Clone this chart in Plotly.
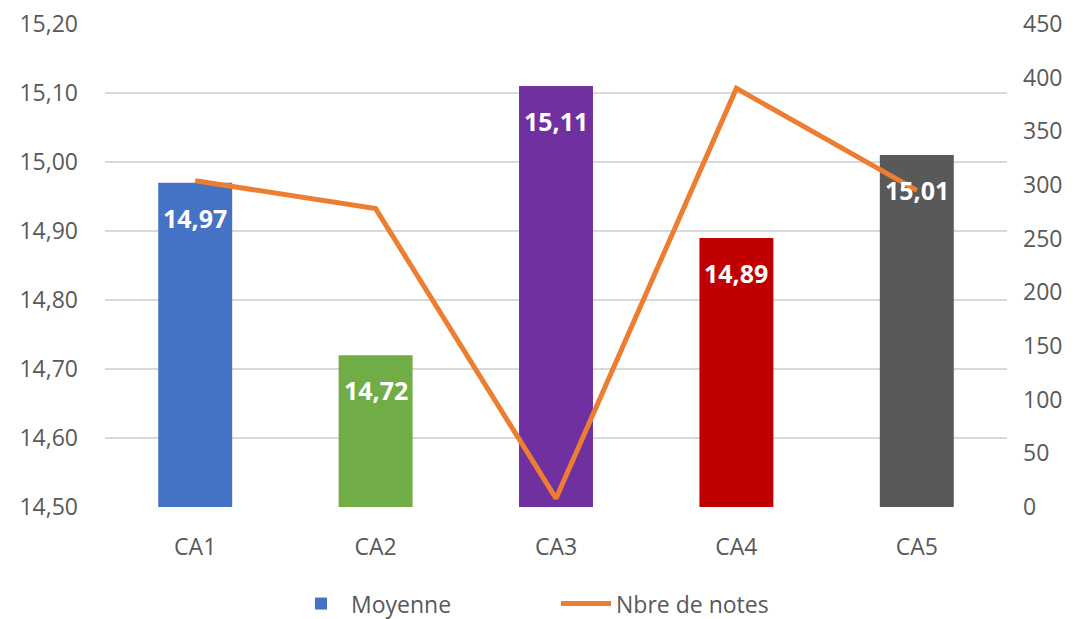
import plotly.graph_objects as go

categories = ["CA1", "CA2", "CA3", "CA4", "CA5"]
moyenne = [14.97, 14.72, 15.11, 14.89, 15.01]
nbre_notes = [304, 278, 8, 390, 295]
bar_colors = ["#4472C4", "#70AD47", "#7030A0", "#C00000", "#595959"]
left_ticks = [14.5, 14.6, 14.7, 14.8, 14.9, 15.0, 15.1, 15.2]
right_ticks = [0, 50, 100, 150, 200, 250, 300, 350, 400, 450]

FONT = "Open Sans"
GREY = "#595959"

fig = go.Figure()
fig.add_trace(go.Bar(
    x=categories, y=moyenne, name="Moyenne",
    marker=dict(color=bar_colors, line=dict(width=0)),
    width=0.41,
))
fig.add_trace(go.Scatter(
    x=categories, y=nbre_notes, name="Nbre de notes", yaxis="y2",
    mode="lines", line=dict(color="#ED7D31", width=5),
))

for c, v in zip(categories, moyenne):
    fig.add_annotation(
        x=c, y=v, xref="x", yref="y", yanchor="middle", yshift=-35,
        text=f"{v:.2f}".replace(".", ","), showarrow=False,
        font=dict(family=FONT, size=25, color="white", weight="bold"),
    )

fig.update_layout(
    width=1080, height=619,
    paper_bgcolor="white", plot_bgcolor="white",
    margin=dict(l=105, r=73, t=24, b=112, autoexpand=False),
    separators=", ",
    font=dict(family=FONT, color=GREY, size=23),
    xaxis=dict(
        showgrid=False, zeroline=False, showline=False, automargin=False,
        tickfont=dict(size=23, color=GREY), ticklabelstandoff=24,
    ),
    yaxis=dict(
        range=[14.5, 15.2], tickvals=left_ticks, tickformat=".2f",
        showgrid=True, gridcolor="#D9D9D9", gridwidth=2,
        zeroline=False, showline=False, automargin=False,
        tickfont=dict(size=23, color=GREY), ticklabelstandoff=26,
    ),
    yaxis2=dict(
        range=[0, 450], tickvals=right_ticks, overlaying="y", side="right",
        showgrid=False, zeroline=False, showline=False, automargin=False,
        tickfont=dict(size=23, color=GREY), ticklabelstandoff=15,
    ),
    legend=dict(
        orientation="h", x=0.5, xanchor="center", y=-0.2, yanchor="middle",
        font=dict(size=23, color=GREY), bgcolor="rgba(0,0,0,0)",
        itemwidth=50, entrywidth=200, entrywidthmode="pixels",
    ),
    showlegend=True,
)

fig.write_html(
    "out.html",
    config={"displayModeBar": False},
    post_script="document.body.style.margin='0';document.body.style.overflow='hidden';",
)
